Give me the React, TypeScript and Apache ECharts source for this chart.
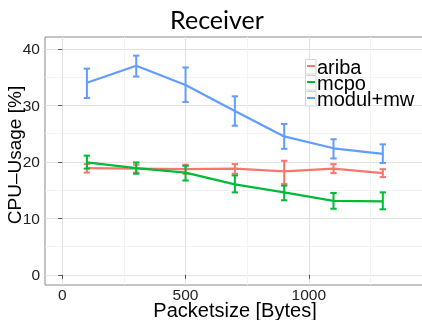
import React, { useEffect, useRef } from "react";
import * as echarts from "echarts";

const packetSizes = [100, 300, 500, 700, 900, 1100, 1300];
const seriesNames = ["ariba", "mcpo", "modul+mw"];
const seriesColors = ["#F8766D", "#00BA38", "#619CFF"];

const aribaMean = [18.9, 18.8, 18.7, 18.8, 18.3, 18.8, 18.0];
const aribaLo = [18.1, 18.1, 17.9, 17.9, 16.1, 18.0, 17.3];
const aribaHi = [19.6, 19.5, 19.5, 19.6, 20.2, 19.6, 18.7];

const mcpoMean = [19.9, 18.9, 18.1, 16.0, 14.6, 13.1, 13.0];
const mcpoLo = [18.8, 17.9, 16.7, 14.6, 13.2, 11.7, 11.6];
const mcpoHi = [21.1, 19.9, 19.3, 17.6, 15.8, 14.5, 14.6];

const modulMean = [34.0, 37.0, 33.6, 29.0, 24.5, 22.4, 21.4];
const modulLo = [31.3, 35.1, 30.6, 26.4, 22.3, 20.6, 19.8];
const modulHi = [36.5, 38.8, 36.7, 31.6, 26.7, 24.0, 23.1];

const xTicks = [0, 500, 1000];
const yTicks = [0, 10, 20, 30, 40];

const titleText = "Receiver";
const xTitle = "Packetsize [Bytes]";
const yTitle = "CPU\u2013Usage [%]";

export default function App() {
  const ref = useRef<HTMLDivElement>(null);
  useEffect(() => {
    if (!ref.current) return;
    const chart = echarts.init(ref.current, undefined, { renderer: "svg" });
    const means = [aribaMean, mcpoMean, modulMean];
    const los = [aribaLo, mcpoLo, modulLo];
    const his = [aribaHi, mcpoHi, modulHi];
    const series: any[] = [];
    seriesNames.forEach((name, i) => {
      series.push({
        type: "custom",
        name: name + "-err",
        data: packetSizes.map((x, j) => [x, los[i][j], his[i][j]]),
        z: 3 + i * 2,
        renderItem: (params: any, api: any) => {
          const x = api.value(0);
          const lo = api.coord([x, api.value(1)]);
          const hi = api.coord([x, api.value(2)]);
          const w = 3.2;
          const st = { stroke: seriesColors[i], lineWidth: 2 };
          return {
            type: "group",
            children: [
              { type: "line", shape: { x1: lo[0], y1: lo[1], x2: hi[0], y2: hi[1] }, style: st },
              { type: "line", shape: { x1: lo[0] - w, y1: lo[1], x2: lo[0] + w, y2: lo[1] }, style: st },
              { type: "line", shape: { x1: hi[0] - w, y1: hi[1], x2: hi[0] + w, y2: hi[1] }, style: st },
            ],
          };
        },
      });
      series.push({
        type: "line",
        name,
        data: packetSizes.map((x, j) => [x, means[i][j]]),
        showSymbol: false,
        symbol: "none",
        z: 4 + i * 2,
        lineStyle: { color: seriesColors[i], width: 2.2 },
        itemStyle: { color: seriesColors[i] },
      });
    });

    const legendX = 305;
    const legendY = 59;
    const step = 16;
    const legendGraphics: any[] = [];
    seriesNames.forEach((name, i) => {
      const y = legendY + i * step;
      legendGraphics.push({
        type: "rect",
        shape: { x: legendX + 0.5, y: y + 0.5, width: 10.5, height: 14.5 },
        style: { fill: "#fff", stroke: "#d4d4d4", lineWidth: 1 },
        z: 100,
      });
      legendGraphics.push({
        type: "line",
        shape: { x1: legendX + 2, y1: y + 7, x2: legendX + 10, y2: y + 7 },
        style: { stroke: seriesColors[i], lineWidth: 2 },
        z: 101,
      });
      legendGraphics.push({
        type: "text",
        x: legendX + 12,
        y: y + 7.5,
        style: {
          text: name,
          fontFamily: "Liberation Sans",
          fontSize: 20,
          lineHeight: 14,
          fill: "#000",
          align: "left",
          verticalAlign: "middle",
        },
        z: 101,
      });
    });

    const plain = (v: number) => String(v);

    chart.setOption({
      animation: false,
      grid: {
        left: 45,
        top: 37,
        right: -5.2,
        bottom: 35,
        show: true,
        borderColor: "#888",
        borderWidth: 1,
        backgroundColor: "#fff",
        containLabel: false,
        outerBoundsMode: "none",
      },
      xAxis: {
        type: "value",
        min: -70,
        max: 1480,
        splitNumber: 3,
        axisLine: { show: false },
        axisTick: { show: true, length: 4, lineStyle: { color: "#555" }, customValues: xTicks },
        axisLabel: {
          customValues: xTicks,
          formatter: plain,
          margin: 3,
          fontSize: 15.5,
          lineHeight: 13,
          fontFamily: "Liberation Sans",
          color: "#222",
        },
        splitLine: { show: true, lineStyle: { color: "#e3e3e3", width: 1.1 } },
        minorTick: { show: false, splitNumber: 2 },
        minorSplitLine: { show: true, lineStyle: { color: "#f3f3f3", width: 1 } },
      },
      yAxis: {
        type: "value",
        min: -1.8,
        max: 42.1,
        splitNumber: 4,
        axisLine: { show: false },
        axisTick: { show: true, length: 4, lineStyle: { color: "#555" }, customValues: yTicks },
        axisLabel: {
          customValues: yTicks,
          formatter: plain,
          margin: 5,
          fontSize: 15.5,
          fontFamily: "Liberation Sans",
          color: "#222",
        },
        splitLine: { show: true, lineStyle: { color: "#e3e3e3", width: 1.1 } },
        minorTick: { show: false, splitNumber: 2 },
        minorSplitLine: { show: true, lineStyle: { color: "#f3f3f3", width: 1 } },
      },
      series,
      graphic: [
        {
          type: "text",
          x: 217,
          y: 19,
          style: {
            text: titleText,
            fontFamily: "Lato",
            fontSize: 25,
            fill: "#000",
            align: "center",
            verticalAlign: "middle",
          },
        },
        {
          type: "text",
          x: 235,
          y: 309.5,
          style: {
            text: xTitle,
            fontFamily: "Liberation Sans",
            fontSize: 20,
            lineHeight: 15,
            fill: "#000",
            align: "center",
            verticalAlign: "middle",
          },
        },
        {
          type: "text",
          x: 14.5,
          y: 155,
          rotation: Math.PI / 2,
          style: {
            text: yTitle,
            fontFamily: "Liberation Sans",
            fontSize: 19,
            fill: "#000",
            align: "center",
            verticalAlign: "middle",
          },
        },
        ...legendGraphics,
      ],
    });
    return () => chart.dispose();
  }, []);
  return <div ref={ref} style={{ width: 422, height: 320, position: "fixed", left: 0, top: 0 }} />;
}
